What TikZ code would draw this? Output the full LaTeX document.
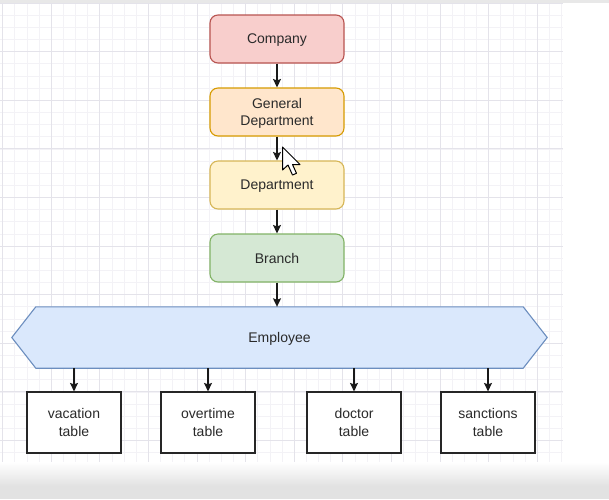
\documentclass[tikz,border=0pt]{standalone}
\usepackage{fontspec}
\setmainfont{Liberation Sans}
\usetikzlibrary{arrows.meta,calc}
\definecolor{gridminor}{HTML}{F3F2F6}
\definecolor{gridmajor}{HTML}{E4E3EA}
\definecolor{txt}{HTML}{2A2A2A}
\definecolor{redfill}{HTML}{F8CECC}\definecolor{redline}{HTML}{B85450}
\definecolor{orfill}{HTML}{FFE6CC}\definecolor{orline}{HTML}{D79B00}
\definecolor{yefill}{HTML}{FFF2CC}\definecolor{yeline}{HTML}{D6B656}
\definecolor{grfill}{HTML}{D5E8D4}\definecolor{grline}{HTML}{82B366}
\definecolor{blfill}{HTML}{DAE8FC}\definecolor{blline}{HTML}{6C8EBF}
\definecolor{bandgray}{HTML}{E2E2E2}
\pgfdeclarelayer{bg}
\pgfsetlayers{bg,main}
\begin{document}
\begin{tikzpicture}[x=1pt,y=-1pt,
  every node/.style={font=\fontsize{14}{17.5}\selectfont, text=txt, align=center, inner sep=0pt, text depth=0pt},
  colbox/.style={rounded corners=8pt, minimum width=134pt, minimum height=48pt, line width=1.1pt},
  tablebox/.style={draw=black!85, line width=1.2pt, minimum width=94pt, minimum height=61pt, fill=white},
  link/.style={line width=1.4pt, draw=black!90, -{Stealth[length=8.5pt,width=8pt,inset=1.5pt]}}
]
\useasboundingbox (0,0) rectangle (609,499);
\begin{pgfonlayer}{bg}
\fill[white] (0,0) rectangle (609,499);
\fill[black!9] (0,0) rectangle (609,2.5);
\foreach \i in {0,...,46} {
  \draw[gridminor, line width=0.6pt] ({2.5+\i*12.15},3) -- ({2.5+\i*12.15},476);
}
\foreach \j in {0,...,38} {
  \draw[gridminor, line width=0.6pt] (0,{3+\j*12.15}) -- (563,{3+\j*12.15});
}
\foreach \i in {0,...,11} {
  \draw[gridmajor, line width=0.8pt] ({2.5+\i*48.6},3) -- ({2.5+\i*48.6},476);
}
\foreach \j in {0,...,9} {
  \draw[gridmajor, line width=0.8pt] (0,{3+\j*48.6}) -- (563,{3+\j*48.6});
}
\shade[top color=white, bottom color=bandgray] (0,462) rectangle (609,486);
\fill[bandgray] (0,486) rectangle (609,499);
\end{pgfonlayer}

\node[colbox, fill=redfill, draw=redline] (company) at (277,39) {Company};
\node[colbox, fill=orfill, draw=orline] (gendept) at (277,112) {General\\Department};
\node[colbox, fill=yefill, draw=yeline] (dept) at (277,185) {Department};
\node[colbox, fill=grfill, draw=grline] (branch) at (277,258) {Branch};

\node[minimum width=535pt, minimum height=61pt] (emp) at (279.5,337.5) {Employee};
\begin{pgfonlayer}{bg}
\draw[fill=blfill, draw=blline, line width=1.1pt, line join=miter]
  (emp.west) -- ($(emp.north west)+(24,0)$) -- ($(emp.north east)+(-24,0)$)
  -- (emp.east) -- ($(emp.south east)+(-24,0)$) -- ($(emp.south west)+(24,0)$) -- cycle;
\end{pgfonlayer}

\node[tablebox] (vac) at (74,422.5) {vacation\\table};
\node[tablebox] (over) at (208,422.5) {overtime\\table};
\node[tablebox] (doc) at (354,422.5) {doctor\\table};
\node[tablebox] (sanc) at (488,422.5) {sanctions\\table};

\draw[link] (company) -- (gendept);
\draw[link] (gendept) -- (dept);
\draw[link] (dept) -- (branch);
\draw[link] (branch.south) -- (branch.south |- emp.north);
\foreach \t in {vac,over,doc,sanc} {
  \draw[link] (emp.south -| \t.north) -- (\t.north);
}

% mouse cursor
\draw[fill=white, draw=black, line width=1pt, line join=round]
  (282.5,147) -- (282.5,170) -- (288,165) -- (292.5,175) -- (296.5,173.3)
  -- (292.5,164.5) -- (300,164.5) -- cycle;
\end{tikzpicture}
\end{document}
